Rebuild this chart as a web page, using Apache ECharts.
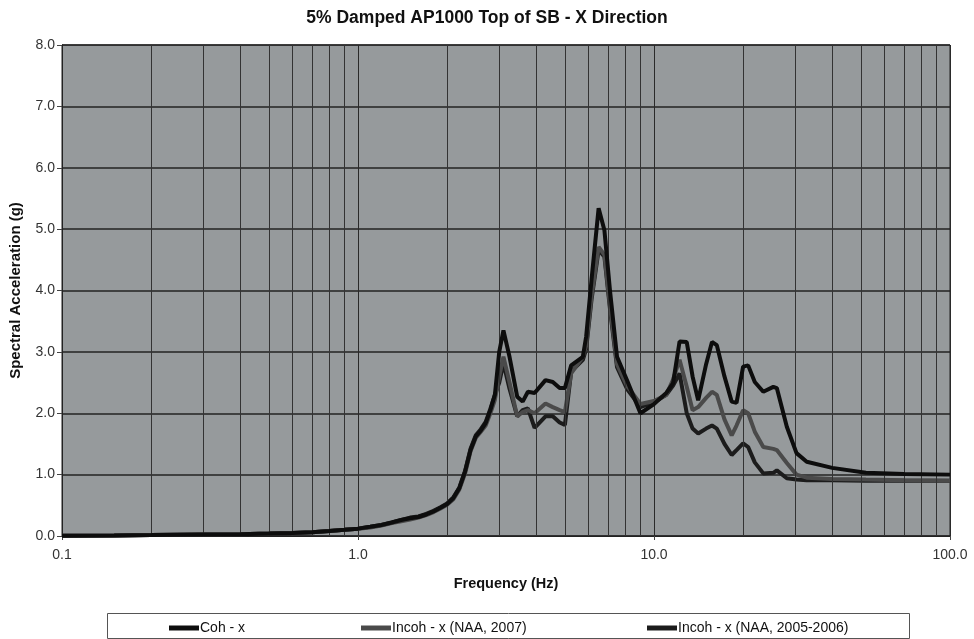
<!DOCTYPE html>
<html>
<head>
<meta charset="utf-8">
<script src="https://cdn.jsdelivr.net/npm/echarts@6/dist/echarts.min.js"></script>
<style>html,body{margin:0;padding:0;background:#fff}#c{width:974px;height:639px}</style>
</head>
<body>
<div id="c"></div>
<script>
const freq = [0.1,0.15,0.2,0.3,0.4,0.5,0.6,0.7,0.8,0.9,1.0,1.1,1.2,1.3,1.4,1.5,1.6,1.7,1.8,1.9,2.0,2.1,2.2,2.3,2.4,2.5,2.6,2.7,2.8,2.9,3.0,3.1,3.25,3.45,3.6,3.75,3.95,4.3,4.55,4.8,5.0,5.25,5.75,5.9,6.15,6.5,6.8,7.1,7.5,8.1,9.0,10.0,11.0,11.6,12.2,12.9,13.5,14.1,15.0,15.7,16.3,17.3,18.3,19.0,20.0,20.8,21.9,23.4,25.3,26.0,28.1,30.3,32.8,40,52,70,100];
const cohX = [0.005,0.01,0.015,0.025,0.03,0.04,0.05,0.06,0.08,0.1,0.12,0.15,0.18,0.22,0.26,0.29,0.31,0.35,0.40,0.46,0.52,0.62,0.78,1.05,1.40,1.62,1.72,1.84,2.05,2.30,3.0,3.35,2.92,2.27,2.19,2.35,2.33,2.54,2.51,2.41,2.41,2.78,2.92,3.25,4.17,5.34,4.98,4.0,2.92,2.54,2.0,2.15,2.33,2.49,3.17,3.16,2.6,2.21,2.8,3.16,3.11,2.6,2.19,2.17,2.76,2.78,2.51,2.35,2.43,2.41,1.78,1.35,1.21,1.11,1.03,1.01,1.0];
const incoh2007 = [0.005,0.01,0.015,0.025,0.03,0.04,0.05,0.06,0.08,0.1,0.12,0.14,0.17,0.21,0.24,0.27,0.30,0.34,0.39,0.45,0.51,0.60,0.76,1.02,1.38,1.60,1.70,1.80,2.00,2.22,2.6,2.92,2.5,1.95,2.02,2.05,2.0,2.16,2.1,2.05,2.02,2.65,2.92,3.1,3.9,4.71,4.58,3.75,2.8,2.45,2.15,2.2,2.3,2.55,2.87,2.43,2.05,2.1,2.25,2.35,2.30,1.9,1.64,1.8,2.05,2.0,1.7,1.45,1.42,1.40,1.19,1.0,0.95,0.93,0.92,0.91,0.9];
const incoh0506 = [0.005,0.01,0.015,0.025,0.03,0.04,0.05,0.06,0.08,0.1,0.12,0.15,0.18,0.22,0.26,0.30,0.32,0.36,0.41,0.47,0.53,0.63,0.79,1.06,1.42,1.64,1.74,1.86,2.07,2.30,2.5,2.82,2.4,1.95,2.05,2.08,1.76,1.95,1.95,1.85,1.81,2.68,2.87,3.05,3.85,4.66,4.55,3.7,2.75,2.4,2.1,2.18,2.3,2.45,2.65,2.0,1.75,1.67,1.75,1.80,1.75,1.5,1.32,1.4,1.51,1.45,1.2,1.02,1.03,1.07,0.94,0.92,0.91,0.91,0.9,0.9,0.9];
const seriesNames = ['Coh - x','Incoh - x (NAA, 2007)','Incoh - x (NAA, 2005-2006)'];
const minorGrid = [0.2,0.3,0.4,0.5,0.6,0.7,0.8,0.9,2,3,4,5,6,7,8,9,20,30,40,50,60,70,80,90];

const pair = (ys) => freq.map((f,i)=>[f,ys[i]]);
const FONT = 'Liberation Sans, Arial, sans-serif';
const chart = echarts.init(document.getElementById('c'));
const legendBase = {
  orient:'horizontal', top:616, itemWidth:30, itemHeight:5, itemGap:0,
  icon:'rect', textStyle:{fontFamily:FONT,fontSize:14,color:'#111',padding:[0,0,0,-4]}
};
chart.setOption({
  backgroundColor:'#ffffff',
  animation:false,
  title:{text:'5% Damped AP1000 Top of SB - X Direction',left:'center',top:4,
    textStyle:{fontFamily:FONT,fontSize:17.5,fontWeight:'bold',color:'#111'}},
  grid:{left:62,right:24,top:45,bottom:103,show:true,backgroundColor:'#969a9c',borderColor:'#222',borderWidth:1},
  legend:[
    Object.assign({},legendBase,{left:164,data:[seriesNames[0]]}),
    Object.assign({},legendBase,{left:356,data:[seriesNames[1]]}),
    Object.assign({},legendBase,{left:642,data:[seriesNames[2]]})
  ],
  graphic:[{type:'rect',left:105,top:611,shape:{width:802,height:25},style:{fill:'none',stroke:'#555',lineWidth:1},silent:true,z:-1}],
  xAxis:{type:'log',logBase:10,min:0.1,max:100,
    name:'Frequency (Hz)',nameLocation:'middle',nameGap:40,
    nameTextStyle:{fontFamily:FONT,fontSize:14.5,fontWeight:'bold',color:'#111'},
    axisLine:{lineStyle:{color:'#222',width:1}},
    axisTick:{show:true,inside:false,length:4,lineStyle:{color:'#444'}},
    axisLabel:{margin:12,fontFamily:FONT,fontSize:14,color:'#333',formatter:v=>Number(v).toFixed(1)},
    splitLine:{show:true,lineStyle:{color:'#2a2a2a',width:1}}
  },
  yAxis:{type:'value',min:0,max:8,interval:1,
    name:'Spectral Acceleration (g)',nameLocation:'middle',nameGap:39,nameRotate:90,
    nameTextStyle:{fontFamily:FONT,fontSize:15,fontWeight:'bold',color:'#111'},
    axisLine:{show:true,lineStyle:{color:'#222',width:1}},
    axisTick:{show:true,inside:false,length:5,lineStyle:{color:'#444'}},
    axisLabel:{margin:7,fontFamily:FONT,fontSize:14,color:'#333',formatter:v=>Number(v).toFixed(1)},
    splitLine:{show:true,lineStyle:{color:'#222',width:1.5}}
  },
  series:[
    {type:'line',name:'grid',data:[],z:1,silent:true,
      markLine:{silent:true,symbol:['none','none'],label:{show:false},animation:false,
        lineStyle:{color:'#333',width:1,type:'solid'},
        data:minorGrid.map(v=>({xAxis:v}))}},
    {type:'line',name:seriesNames[2],data:pair(incoh0506),showSymbol:false,z:3,
      lineStyle:{color:'#1c1c1c',width:4},itemStyle:{color:'#1c1c1c'}},
    {type:'line',name:seriesNames[1],data:pair(incoh2007),showSymbol:false,z:4,
      lineStyle:{color:'#4a4a4a',width:4},itemStyle:{color:'#4a4a4a'}},
    {type:'line',name:seriesNames[0],data:pair(cohX),showSymbol:false,z:5,
      lineStyle:{color:'#0d0d0d',width:4},itemStyle:{color:'#0d0d0d'}}
  ]
});
</script>
</body>
</html>
